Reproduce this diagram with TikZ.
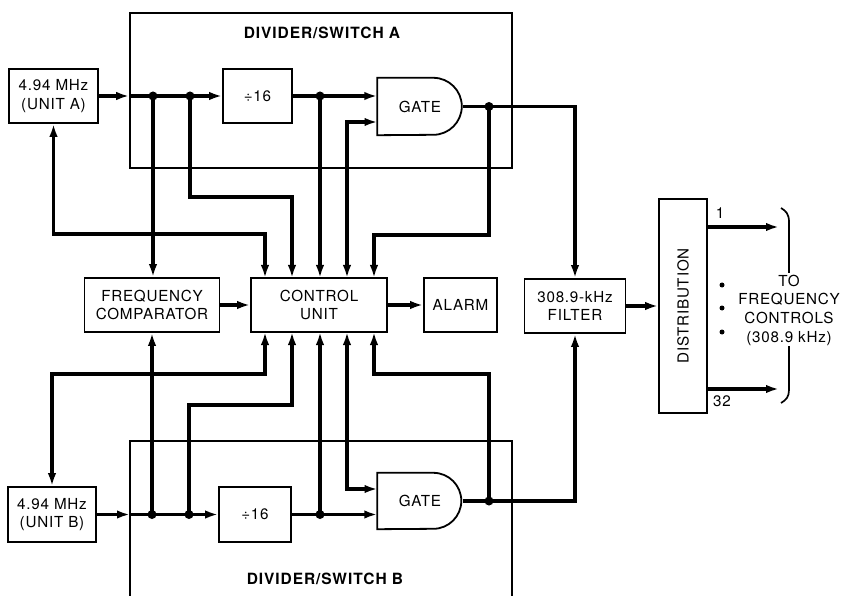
\documentclass[tikz,border=0pt]{standalone}
\usepackage{fontspec}
\setmainfont{TeX Gyre Heros}[LetterSpace=5]
\newfontfamily\headfont{TeX Gyre Heros}[LetterSpace=6]
\usetikzlibrary{arrows.meta}
\begin{document}
\begin{tikzpicture}[x=1pt,y=-1pt,
  font=\fontsize{15.2}{18.5}\selectfont,
  blk/.style={draw, line width=1.8pt, inner sep=0pt, align=center},
  frame/.style={draw, line width=1.6pt},
  sig/.style={line width=3.3pt},
  tip/.tip={Latex[length=13pt,width=8.5pt]},
  lbl/.style={inner sep=0pt, align=center},
  head/.style={inner sep=0pt, font=\headfont\bfseries\fontsize{15.5}{18}\selectfont}]
\useasboundingbox (0,0) rectangle (841,596);
\fill[white] (0,0) rectangle (841,596);

% frames
\node[frame, minimum width=382, minimum height=155, inner sep=0pt] (boxA) at (321,90.5) {};
\node[head] (labA) at (322,33) {DIVIDER/SWITCH A};
\draw[frame] (130,600) -- (130,441) -- (512,441) -- (512,600);
\coordinate (boxBw) at (130,514.5);
\node[head] (labB) at (325,579) {DIVIDER/SWITCH B};

% blocks
\node[blk, minimum width=89, minimum height=54] (unitA) at (53.5,96) {4.94 MHz\\(UNIT A)};
\node[blk, minimum width=69, minimum height=54] (divA) at (257.5,96) {÷16};
\node[lbl, minimum width=85, minimum height=57] (gateA) at (420,106.5) {GATE};
\draw[blk] (gateA.north west) -- ++(56,0) arc[start angle=-90, end angle=90, radius=28.5] -- (gateA.south west) -- cycle;

\node[blk, minimum width=135, minimum height=54] (freq) at (152,305) {FREQUENCY\\COMPARATOR};
\node[blk, minimum width=136, minimum height=54] (ctrl) at (319,305) {CONTROL\\UNIT};
\node[blk, minimum width=73, minimum height=54] (alarm) at (460.5,305) {ALARM};
\node[blk, minimum width=101, minimum height=54] (filter) at (575,306) {308.9-kHz\\FILTER};
\node[blk, minimum width=48, minimum height=214] (dist) at (683,306) {};
\node[lbl, rotate=90] (distl) at (683,306) {DISTRIBUTION};

\node[blk, minimum width=88, minimum height=55] (unitB) at (52,514.5) {4.94 MHz\\(UNIT B)};
\node[blk, minimum width=72, minimum height=55] (divB) at (255,514.5) {÷16};
\node[lbl, minimum width=85, minimum height=56] (gateB) at (420,501) {GATE};
\draw[blk] (gateB.north west) -- ++(56,0) arc[start angle=-90, end angle=90, radius=28] -- (gateB.south west) -- cycle;

% control unit entry points
\coordinate (cn1) at (265,278); \coordinate (cn2) at (292,278); \coordinate (cn3) at (320,278);
\coordinate (cn4) at (347,278); \coordinate (cn5) at (374,278);
\coordinate (cs1) at (265,332); \coordinate (cs2) at (292,332); \coordinate (cs3) at (320,332);
\coordinate (cs4) at (347,332); \coordinate (cs5) at (374,332);

% junctions
\coordinate (a1) at (153,96); \coordinate (a2) at (190,96); \coordinate (a3) at (320,96); \coordinate (a4) at (489,106.5);
\coordinate (b1) at (152,514.5); \coordinate (b2) at (189,514.5); \coordinate (b3) at (320,514.5); \coordinate (b4) at (489,501);
\coordinate (gA2) at (377.5,122); \coordinate (gB1) at (377.5,489);
\coordinate (fA) at (575,106.5); \coordinate (fB) at (575,501);

% side A connectors
\draw[sig,-{tip}] (unitA.east) -- (boxA.west |- unitA.east);
\draw[sig,-{tip}] (boxA.west |- unitA.east) -- (divA.west);
\draw[sig,-{tip}] (divA.east) -- (gateA.west |- divA.east);
\draw[sig,-{tip}] (a1) -- (a1 |- freq.north);
\draw[sig,-{tip}] (a2) -- (190,197) -- (292,197) -- (cn2);
\draw[sig,-{tip}] (a3) -- (cn3);
\draw[sig,{tip}-{tip}] (cn4) -- (347,122) -- (gA2);
\draw[sig,-{tip}] (gateA.east) -- (fA) -- (filter.north);
\draw[sig,-{tip}] (a4) -- (489,235) -- (374,235) -- (cn5);
\draw[sig,{tip}-{tip}] (unitA.south) -- (53.5,234) -- (265,234) -- (cn1);

% middle
\draw[sig,-{tip}] (freq) -- (ctrl);
\draw[sig,-{tip}] (ctrl) -- (alarm);
\draw[sig,-{tip}] (filter) -- (dist);
\coordinate (o1) at (779,227); \coordinate (o32) at (779,389);
\draw[sig,-{tip}] (dist.east |- o1) -- (o1);
\draw[sig,-{tip}] (dist.east |- o32) -- (o32);

% side B connectors
\draw[sig,-{tip}] (unitB.east) -- (boxBw);
\draw[sig,-{tip}] (boxBw) -- (divB.west);
\draw[sig,-{tip}] (divB.east) -- (gateB.west |- divB.east);
\draw[sig,-{tip}] (b1) -- (b1 |- freq.south);
\draw[sig,-{tip}] (b2) -- (189,405) -- (292,405) -- (cs2);
\draw[sig,-{tip}] (b3) -- (cs3);
\draw[sig,{tip}-{tip}] (cs4) -- (347,489) -- (gB1);
\draw[sig,-{tip}] (gateB.east) -- (fB) -- (filter.south);
\draw[sig,-{tip}] (b4) -- (489,374) -- (374,374) -- (cs5);
\draw[sig,{tip}-{tip}] (unitB.north) -- (52,374) -- (265,374) -- (cs1);

% dots
\foreach \p in {a1,a2,a3,a4,b1,b2,b3,b4} \fill (\p) circle[radius=4.5];

% distribution outputs
\node[lbl] (n1) at (720,213) {1};
\node[lbl] (n32) at (722,401) {32};
\foreach \yy in {285,308,332} \fill (722,\yy) circle[radius=2.5];
\node[lbl, font=\fontsize{15.2}{18.7}\selectfont] (to) at (789,310) {TO\\FREQUENCY\\CONTROLS\\(308.9 kHz)};
\draw[line width=1.7pt] (781,208) .. controls (786,211) and (789,214) .. (789,222) -- (789,273);
\draw[line width=1.7pt] (789,346) -- (789,390) .. controls (789,397) and (786,400) .. (781,403);
\end{tikzpicture}
\end{document}
